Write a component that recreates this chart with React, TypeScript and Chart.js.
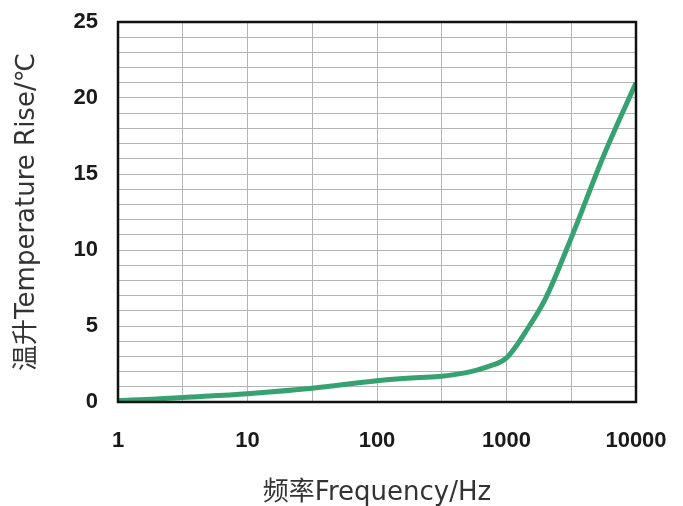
import React, { useEffect, useRef } from "react";
import { Chart, registerables } from "chart.js";

Chart.register(...registerables);

const frequencies = [1, 2, 3.16, 10, 31.6, 100, 200, 316, 500, 700, 1000, 1500, 2000, 3162, 5623, 10000];
const temperatureRise = [0.1, 0.2, 0.3, 0.55, 0.9, 1.4, 1.6, 1.7, 1.95, 2.3, 2.9, 5.0, 6.8, 10.8, 16.2, 21.0];
const xGridValues = [1, 3.1623, 10, 31.623, 100, 316.23, 1000, 3162.3, 10000];
const xLabelValues = [1, 10, 100, 1000, 10000];
const yLabelValues = [0, 5, 10, 15, 20, 25];
const xTitle = "频率Frequency/Hz";
const yTitle = "温升Temperature Rise/℃";

const frame = {
  id: "frame",
  afterDraw(chart: any) {
    const { ctx, chartArea: a } = chart;
    ctx.save();
    ctx.strokeStyle = "#111";
    ctx.lineWidth = 2.5;
    ctx.strokeRect(a.left, a.top, a.right - a.left, a.bottom - a.top);
    ctx.restore();
  },
};

const titleFamily = "'DejaVu Sans', 'Noto Sans CJK SC', sans-serif";

export default function App() {
  const ref = useRef<HTMLCanvasElement>(null);
  useEffect(() => {
    document.body.style.margin = "0";
    const chart = new Chart(ref.current!, {
      type: "line",
      data: {
        datasets: [
          {
            data: frequencies.map((f, i) => ({ x: f, y: temperatureRise[i] })),
            borderColor: "#36a271",
            borderWidth: 5,
            pointRadius: 0,
            cubicInterpolationMode: "monotone",
            fill: false,
          },
        ],
      },
      options: {
        animation: false,
        responsive: false,
        layout: { padding: { top: 22, right: 47, left: 6, bottom: 0 } },
        plugins: { legend: { display: false }, tooltip: { enabled: false } },
        scales: {
          x: {
            type: "logarithmic",
            min: 1,
            max: 10000,
            afterBuildTicks: (s: any) => {
              s.ticks = xGridValues.map((v) => ({ value: v }));
            },
            afterFit: (s: any) => {
              s.height = 104;
              s.paddingLeft = 0;
              s.paddingRight = 0;
            },
            grid: { color: "#b4b4b4", lineWidth: 1, drawTicks: false },
            border: { display: false },
            ticks: {
              autoSkip: false,
              maxRotation: 0,
              padding: 26,
              color: "#1a1a1a",
              font: { family: "Liberation Sans", size: 22, weight: "bold" },
              callback: (v: any) => (xLabelValues.includes(Number(v)) ? String(v) : ""),
            },
            title: {
              display: true,
              text: xTitle,
              color: "#333",
              font: { family: titleFamily, size: 26, lineHeight: 1.0 },
              padding: { top: 6, bottom: 0 },
            },
          },
          y: {
            min: 0,
            max: 25,
            afterFit: (s: any) => {
              s.width = 112;
              s.paddingTop = 0;
              s.paddingBottom = 0;
            },
            grid: { color: "#b4b4b4", lineWidth: 1, drawTicks: false },
            border: { display: false },
            ticks: {
              stepSize: 1,
              autoSkip: false,
              padding: 20,
              color: "#1a1a1a",
              font: { family: "Liberation Sans", size: 22, weight: "bold" },
              callback: (v: any) => (yLabelValues.includes(Number(v)) ? String(v) : ""),
            },
            title: {
              display: true,
              text: yTitle,
              color: "#333",
              font: { family: titleFamily, size: 26, lineHeight: 1.0 },
              padding: { top: 8, bottom: 0 },
            },
          },
        },
      },
      plugins: [frame],
    });
    return () => chart.destroy();
  }, []);
  return <canvas ref={ref} width={683} height={506} style={{ display: "block" }} />;
}
